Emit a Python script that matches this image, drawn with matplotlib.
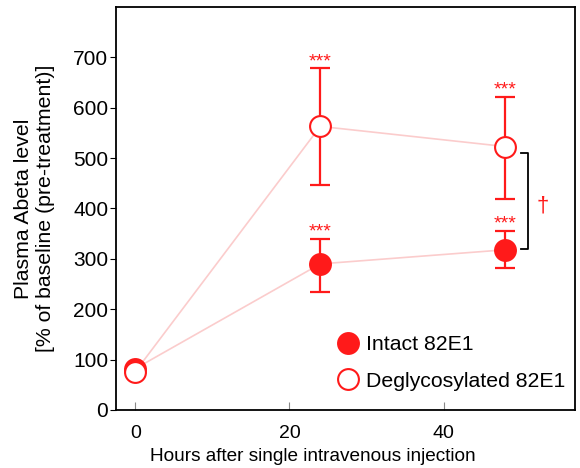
import matplotlib
matplotlib.use('Agg')
import matplotlib.pyplot as plt
from matplotlib.lines import Line2D

plt.rcParams['font.family'] = ['Liberation Sans', 'DejaVu Sans']

# данные
hours = [0, 24, 48]
intact = [82, 290, 318]
intact_lo = [0, 55, 37]
intact_hi = [0, 50, 38]
degly = [76, 563, 523]
degly_lo = [0, 117, 104]
degly_hi = [0, 115, 99]
stars = '***'

red = '#ff1a1a'
pink = '#fbcccc'

fig = plt.figure(figsize=(5.8, 4.68), dpi=100)
ax = fig.add_axes([0.2, 0.124, 0.792, 0.861])

ax.plot(hours, intact, color=pink, lw=1.2, zorder=1)
ax.plot(hours, degly, color=pink, lw=1.2, zorder=1)

ax.errorbar(hours[1:], intact[1:], yerr=[intact_lo[1:], intact_hi[1:]], fmt='none',
            ecolor=red, elinewidth=1.6, capsize=7, capthick=1.6, zorder=2)
ax.errorbar(hours[1:], degly[1:], yerr=[degly_lo[1:], degly_hi[1:]], fmt='none',
            ecolor=red, elinewidth=1.6, capsize=7, capthick=1.6, zorder=2)

ax.plot(hours, intact, 'o', ms=15, color=red, mec=red, mew=1.5, zorder=3)
ax.plot(hours, degly, 'o', ms=15, mfc='white', mec=red, mew=1.5, zorder=4)

# звездочки
for i in (1, 2):
    ax.text(hours[i], intact[i] + intact_hi[i] - 4, stars, color=red, fontsize=14,
            ha='center', va='bottom')
    ax.text(hours[i], degly[i] + degly_hi[i] - 4, stars, color=red, fontsize=14,
            ha='center', va='bottom')

# скобка
ax.plot([50.0, 51.0, 51.0, 50.0], [510, 510, 320, 320], color='k', lw=1.3)
ax.text(52.8, 405, '\u2020', color=red, fontsize=16, ha='center', va='center')

ax.set_xlim(-2.5, 57.1)
ax.set_ylim(0, 800)
ax.set_xticks([0, 20, 40])
ax.set_yticks(range(0, 701, 100))
ax.tick_params(axis='x', direction='in', length=6, color='#888888', labelsize=14, pad=10.5)
ax.tick_params(axis='y', direction='out', length=4, labelsize=15, pad=1.5)
for s in ax.spines.values():
    s.set_linewidth(1.3)

ax.set_xlabel('Hours after single intravenous injection', fontsize=13.7)
ax.xaxis.set_label_coords(0.429, -0.094)
ax.set_ylabel('Plasma Abeta level\n[% of baseline (pre-treatment)]', fontsize=15.3)
ax.yaxis.set_label_coords(-0.133, 0.5)

handles = [Line2D([], [], ls='none', marker='o', ms=15, color=red, mew=1.5),
           Line2D([], [], ls='none', marker='o', ms=15, mfc='white', mec=red, mew=1.5)]
ax.legend(handles, ['Intact 82E1', 'Deglycosylated 82E1'], loc='lower right',
          frameon=False, fontsize=15.3, handletextpad=-0.15, labelspacing=0.83,
          bbox_to_anchor=(1.02, 0.0))

fig.savefig('out.png', dpi=100)
